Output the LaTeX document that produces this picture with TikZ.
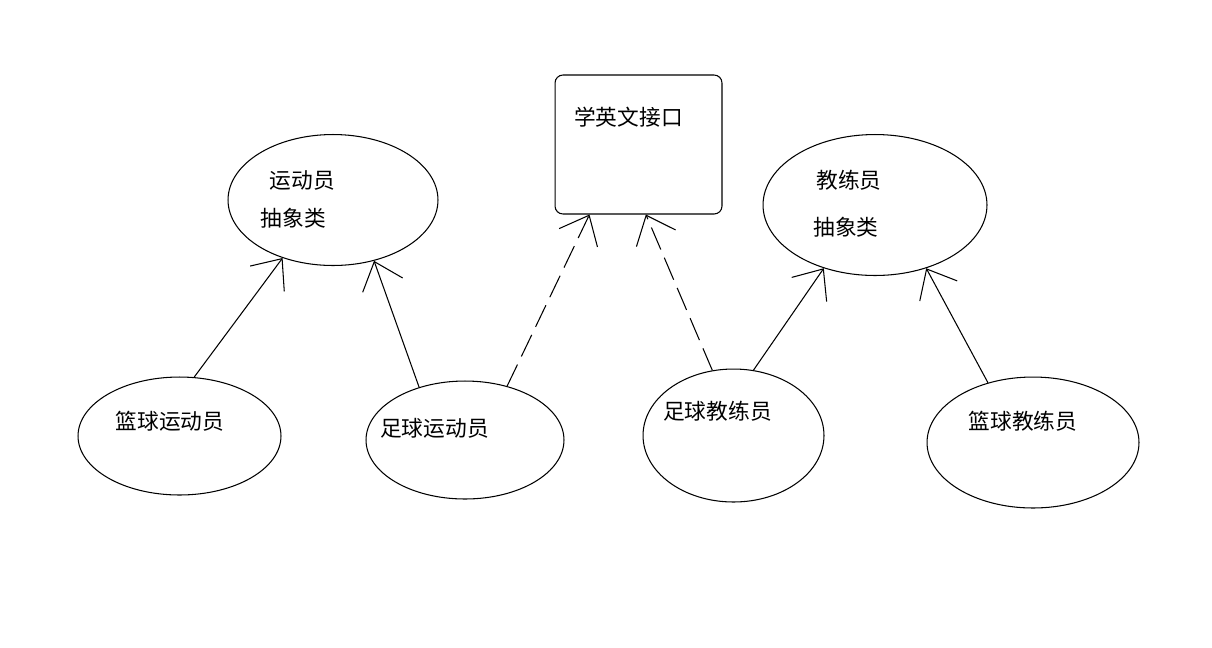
\documentclass[tikz,border=0pt]{standalone}
\usepackage{fontspec}
\newfontfamily\cjk{Noto Sans CJK SC}
\usetikzlibrary{shapes.geometric}
\usetikzlibrary{arrows.meta}
\tikzset{
  classnode/.style={draw, ellipse, inner sep=0pt, line width=0.6pt},
  ifacenode/.style={draw, rectangle, rounded corners=4.5pt, inner sep=0pt,
    minimum width=3.34cm, minimum height=2.78cm, line width=0.6pt},
  txt/.style={font=\cjk\fontsize{12.35}{14}\selectfont, inner sep=0pt},
  extends/.style={line width=0.6pt, -{Straight Barb[length=0.5cm,width=0.85cm]}},
  implements/.style={extends, dash pattern=on 13.6pt off 5.1pt},
}

\begin{document}
\begin{tikzpicture}[x=0.02cm, y=-0.02cm]
        \fill[white] (0,0) rectangle (1212,647);
        \useasboundingbox (0,0) rectangle (1212,647);

        % abstract classes and interface
        \node[classnode, minimum width=4.2cm, minimum height=2.62cm] (yundong) at (333,200) {};
        \node[classnode, minimum width=4.48cm, minimum height=2.82cm] (jiaolian) at (875,205) {};
        \node[ifacenode] (jiekou) at (638.5,144.5) {};

        % concrete classes
        \node[classnode, minimum width=4.06cm, minimum height=2.36cm] (lanqiuyd) at (179.5,436) {};
        \node[classnode, minimum width=3.96cm, minimum height=2.36cm] (zuqiuyd) at (465,440) {};
        \node[classnode, minimum width=3.62cm, minimum height=2.66cm] (zuqiujl) at (733.5,435.5) {};
        \node[classnode, minimum width=4.24cm, minimum height=2.62cm] (lanqiujl) at (1033,442.5) {};

        % texts
        \node[txt] (yundongname) at (302.5,180) {运动员};
        \node[txt] (yundongkind) at (293.5,218) {抽象类};
        \node[txt] (jiaolianname) at (849,180) {教练员};
        \node[txt] (jiaoliankind) at (846,227) {抽象类};
        \node[txt] (jiekouname) at (628.5,117) {学英文接口};
        \node[txt] (lanqiuydname) at (170,421) {篮球运动员};
        \node[txt] (zuqiuydname) at (434.5,428) {足球运动员};
        \node[txt] (zuqiujlname) at (717.5,411) {足球教练员};
        \node[txt] (lanqiujlname) at (1023,421) {篮球教练员};

        % inheritance
        \draw[extends] (lanqiuyd.76.9) -- (yundong.229.2);
        \draw[extends] (zuqiuyd.131.9) -- (yundong.-56.3);
        \draw[extends] (zuqiujl.73.1) -- (jiaolian.-129.5);
        \draw[extends] (lanqiujl.127.9) -- (jiaolian.-51.8);

        % interface
        \draw[implements] (zuqiuyd.52.1) -- (jiekou.235.1);
        \draw[implements] (zuqiujl.108.2) -- (jiekou.-84.8);
    \end{tikzpicture}
\end{document}
